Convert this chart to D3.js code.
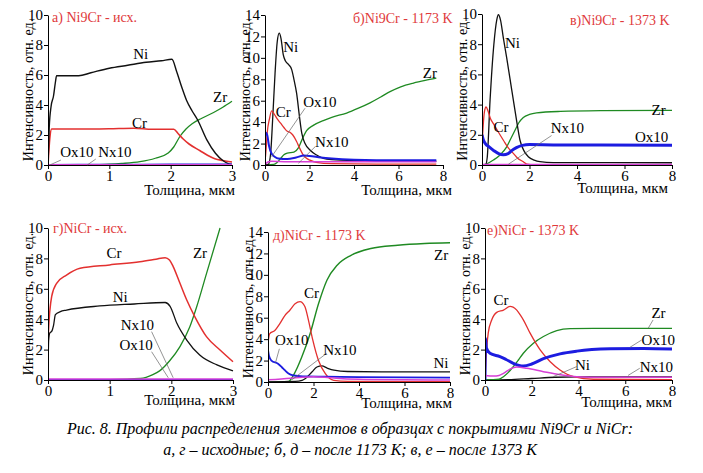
<!DOCTYPE html>
<html><head><meta charset="utf-8">
<script src="https://cdn.jsdelivr.net/npm/d3@7/dist/d3.min.js"></script>
<style>
body{margin:0;background:#fff;}
svg{display:block;}
</style></head>
<body>
<svg id="c" width="703" height="473"></svg>
<script>
// ---------- DATA ----------
// Panel а) Ni9Cr - исх.
const aNi=[[0,0],[0.02,2.5],[0.05,3.9],[0.09,4.6],[0.12,5.5],[0.14,5.95],[0.3,5.95],[0.5,5.95],[0.7,6.15],[1.0,6.45],[1.3,6.65],[1.6,6.85],[1.85,6.95],[2.02,7.05],[2.1,6.2],[2.18,5.2],[2.26,4.3],[2.35,3.6],[2.44,3.0],[2.59,1.67],[2.73,0.78],[2.85,0.3],[2.95,0.08],[3.0,0.03]];
const aCr=[[0,0],[0.03,1.8],[0.06,2.4],[0.5,2.4],[1.0,2.42],[1.4,2.45],[1.7,2.38],[2.05,2.38],[2.12,2.1],[2.2,1.75],[2.3,1.4],[2.48,0.95],[2.6,0.65],[2.72,0.42],[2.85,0.3],[3.0,0.2]];
const aZr=[[0,0],[0.8,0.02],[1.0,0.05],[1.2,0.1],[1.5,0.22],[1.75,0.45],[1.96,0.8],[2.05,1.2],[2.15,1.9],[2.25,2.4],[2.35,2.75],[2.5,3.1],[2.7,3.5],[2.85,3.85],[3.0,4.25]];
const aO=[[0,0.03],[1,0.04],[2,0.05],[3,0.05]];
const aN=[[0,0.01],[1,0.01],[2,0.01],[3,0.01]];
// Panel б) Ni9Cr - 1173 K
const bNi=[[0,0],[0.15,0.05],[0.25,1.0],[0.35,4.5],[0.45,8.5],[0.55,11.5],[0.64,12.3],[0.72,11.8],[0.82,10.3],[0.92,9.7],[1.05,9.4],[1.2,8.9],[1.3,8.0],[1.42,6.7],[1.55,4.5],[1.65,3.0],[1.8,2.0],[2.02,1.4],[2.3,0.95],[2.62,0.62],[3.0,0.5],[4,0.42],[6,0.38],[7.7,0.35]];
const bCr=[[0,0.3],[0.05,1.5],[0.1,3.0],[0.2,4.3],[0.3,5.05],[0.4,4.8],[0.55,4.3],[0.7,3.9],[0.85,3.5],[1.0,3.15],[1.12,3.05],[1.25,2.8],[1.42,2.2],[1.55,1.6],[1.7,1.0],[1.85,0.65],[2.02,0.45],[2.3,0.25],[3,0.12],[5,0.08],[7.7,0.08]];
const bZr=[[0,0],[0.4,0.05],[0.55,0.25],[0.7,0.6],[0.85,0.95],[1.0,1.1],[1.3,1.2],[1.5,1.6],[1.65,2.3],[1.87,3.2],[2.17,3.7],[2.62,4.15],[3.0,4.45],[3.67,4.85],[4.2,5.3],[4.72,5.8],[5.2,6.35],[5.62,6.85],[6.1,7.3],[6.67,7.65],[7.2,7.9],[7.7,8.1]];
const bO=[[0,2.7],[0.05,3.0],[0.1,2.8],[0.18,1.8],[0.3,1.05],[0.45,0.75],[0.6,0.6],[1.0,0.55],[1.4,0.7],[1.75,0.88],[2.0,0.85],[2.5,0.7],[3.0,0.6],[4,0.5],[6,0.45],[7.7,0.45]];
const bN=[[0,0.05],[0.15,0.3],[0.3,0.35],[1,0.3],[2,0.3],[4,0.3],[7.7,0.3]];
// Panel в) Ni9Cr - 1373 K
const cNi=[[0,0],[0.15,0.02],[0.22,0.5],[0.34,4.3],[0.5,8.0],[0.62,9.6],[0.69,9.95],[0.78,9.6],[0.9,8.4],[1.04,7.1],[1.18,5.7],[1.32,4.3],[1.46,2.9],[1.6,1.64],[1.78,0.9],[1.95,0.55],[2.2,0.32],[2.44,0.22],[3,0.16],[8,0.15]];
const cCr=[[0,1.2],[0.05,2.6],[0.1,3.5],[0.17,3.84],[0.25,3.6],[0.35,3.1],[0.48,2.74],[0.7,2.15],[0.9,1.64],[1.1,1.15],[1.32,0.77],[1.5,0.45],[1.74,0.22],[1.9,0.05],[2.2,0],[8,0]];
const cZr=[[0,0],[0.2,0.08],[0.48,0.33],[0.75,0.65],[1.04,1.2],[1.2,1.7],[1.39,2.3],[1.55,2.8],[1.74,3.15],[2.0,3.35],[2.3,3.45],[3.3,3.55],[5,3.6],[8,3.62]];
const cO=[[0,2.0],[0.05,1.7],[0.15,1.4],[0.3,1.2],[0.5,0.95],[0.7,0.75],[0.9,0.68],[1.1,0.75],[1.25,0.95],[1.45,1.15],[1.7,1.3],[2.0,1.35],[3,1.33],[5,1.32],[8,1.3]];
const cN=[[0,0.03],[2,0.03],[8,0.03]];
// Panel г) NiCr - исх.
const dCr=[[0,0],[0.005,3.0],[0.06,5.5],[0.14,6.36],[0.3,6.9],[0.52,7.35],[1.0,7.57],[1.49,7.78],[1.75,7.95],[1.9,8.05],[1.97,7.9],[2.03,7.46],[2.14,6.36],[2.25,5.26],[2.38,4.17],[2.57,2.85],[2.79,1.97],[3.0,1.2]];
const dNi=[[0,0],[0.01,2.6],[0.03,3.1],[0.06,3.2],[0.09,3.6],[0.12,4.3],[0.2,4.5],[0.3,4.6],[0.84,4.87],[1.4,5.0],[1.9,5.1],[1.98,4.85],[2.09,3.73],[2.25,2.63],[2.46,1.64],[2.74,0.99],[3.0,0.6]];
const dZr=[[0,0],[1.0,0.03],[1.5,0.1],[1.7,0.35],[1.81,0.6],[1.98,1.3],[2.14,2.2],[2.3,3.5],[2.41,4.8],[2.57,7.0],[2.79,10.0]];
const dO=[[0,0.03],[1,0.03],[2,0.03],[3,0.03]];
const dN=[[0,0.06],[1,0.06],[2,0.06],[3,0.06]];
// Panel д) NiCr - 1173 K
const eCr=[[0,3.6],[0.07,4.5],[0.3,4.8],[0.52,5.45],[0.74,6.2],[0.96,6.7],[1.19,7.3],[1.41,7.5],[1.55,7.3],[1.63,7.0],[1.78,5.76],[1.97,3.9],[2.22,2.0],[2.52,0.78],[2.89,0.15],[3.5,0.05],[8,0.03]];
const eZr=[[0,0],[0.9,0.05],[1.11,0.6],[1.3,1.4],[1.48,2.3],[1.85,4.5],[2.22,7.3],[2.59,9.5],[3.04,10.9],[3.63,11.8],[4.52,12.46],[5.7,12.77],[6.89,12.93],[8,13.0]];
const eNi=[[0,0.02],[1.2,0.05],[1.5,0.15],[1.63,0.3],[1.93,0.93],[2.15,1.4],[2.37,1.5],[2.6,1.3],[2.9,1.1],[3.5,0.98],[5,0.95],[8,0.95]];
const eO=[[0,3.0],[0.05,2.4],[0.15,2.0],[0.44,1.7],[0.6,1.4],[0.74,1.1],[0.9,0.8],[1.11,0.62],[1.4,0.55],[1.7,0.52],[2.5,0.5],[4,0.45],[8,0.4]];
const eN=[[0,0.2],[1,0.35],[1.5,0.45],[2.0,0.5],[2.5,0.45],[3,0.35],[4,0.25],[6,0.2],[8,0.18]];
// Panel е) NiCr - 1373 K
const fCr=[[0,0],[0.04,1.3],[0.14,3.1],[0.29,3.96],[0.5,4.45],[0.79,4.6],[1.07,4.84],[1.2,4.8],[1.36,4.6],[1.5,4.3],[1.64,3.96],[1.93,3.08],[2.36,1.98],[2.79,1.2],[3.21,0.66],[3.79,0.22],[4.64,0.05],[8,0.03]];
const fZr=[[0,0],[0.6,0.05],[0.79,0.22],[1.0,0.5],[1.21,0.88],[1.42,1.3],[1.64,1.76],[2.07,2.42],[2.5,2.86],[3.07,3.25],[3.64,3.38],[4.64,3.4],[8,3.4]];
const fO=[[0,0],[0.02,2.75],[0.06,2.1],[0.21,1.76],[0.64,1.54],[0.9,1.35],[1.21,1.1],[1.64,0.92],[2.0,1.05],[2.5,1.4],[3.21,1.72],[3.93,1.9],[5.36,2.05],[6.79,2.08],[8,2.04]];
const fN=[[0,0.3],[0.36,0.26],[0.6,0.3],[0.79,0.44],[1.07,0.72],[1.36,0.85],[1.79,0.77],[2.5,0.55],[3.21,0.35],[3.93,0.22],[5,0.18],[8,0.18]];
const fNi=[[0,0],[1,0.02],[2,0.1],[3,0.18],[4,0.2],[8,0.2]];

const ticks3=[0,1,2,3];
const ticks8=[0,2,4,6,8];
const ticks10=[0,2,4,6,8,10];
const ticks14=[0,2,4,6,8,10,12,14];

const xLabelText="Толщина, мкм";
const yLabelText="Интенсивность, отн. ед.";
const captionLines=["Рис. 8. Профили распределения элементов в образцах с покрытиями Ni9Cr и NiCr:","а, г – исходные; б, д – после 1173 К; в, е – после 1373 К"];

// ---------- STYLE / LAYOUT ----------
const COL={Ni:"#111111",Cr:"#e3302f",Zr:"#1f8a22",O:"#1c1ce0",N:"#d63fd6",title:"#e0393b"};
const SERIF='"Liberation Serif", "Tinos", "Times New Roman"';

const panels=[
 {title:"а) Ni9Cr - исх.",xr:[48,232],yr:[165,15],xd:[0,3],yd:[0,10],xt:ticks3,yt:ticks10,tpos:[52,22],xl:[235,195],
  series:[[aZr,"Zr",1.3],[aCr,"Cr",1.6],[aNi,"Ni",1.4],[aO,"O",1.3],[aN,"N",1.5]],
  labels:[["Ni",1.39,7.07],["Cr",1.37,2.47],["Zr",2.69,4.22],["Ox10",0.2,0.55],["Nx10",0.82,0.55]],
  leaders:[[0.21,0.33,0.03,0],[0.78,0.4,0.64,0]]},
 {title:"б)Ni9Cr - 1173 K",xr:[265,443],yr:[165,15],xd:[0,8],yd:[0,14],xt:ticks8,yt:ticks14,tpos:[353,23],xl:[452,195],
  series:[[bZr,"Zr",1.3],[bNi,"Ni",1.3],[bCr,"Cr",1.3],[bN,"N",1.6],[bO,"O",2.0]],
  labels:[["Ni",0.82,10.58],["Cr",0.48,4.51],["Ox10",1.72,5.44],["Nx10",2.25,1.71],["Zr",7.09,8.1]],
  leaders:[[1.8,5.3,0.3,0.78],[2.25,1.7,1.5,0.16]]},
 {title:"в)Ni9Cr - 1373 K",xr:[482,672],yr:[165,14],xd:[0,8],yd:[0,10],xt:ticks8,yt:ticks10,tpos:[570,25],xl:[668,193],
  series:[[cZr,"Zr",1.3],[cNi,"Ni",1.3],[cCr,"Cr",1.3],[cN,"N",1.5],[cO,"O",3.0]],
  labels:[["Ni",0.97,7.78],["Cr",0.48,2.19],["Zr",7.14,3.29],["Ox10",6.44,1.53],["Nx10",2.89,2.09]],
  leaders:[[2.93,1.95,1.11,0.05]]},
 {title:"г)NiCr - исх.",xr:[48,233],yr:[380,228],xd:[0,3],yd:[0,10],xt:ticks3,yt:ticks10,tpos:[53,233],xl:[235,405],
  series:[[dZr,"Zr",1.3],[dNi,"Ni",1.3],[dCr,"Cr",1.5],[dO,"O",1.3],[dN,"N",1.5]],
  labels:[["Cr",0.95,8.0],["Ni",1.05,5.15],["Zr",2.35,8.0],["Nx10",1.18,3.29],["Ox10",1.16,1.97]],
  leaders:[[1.68,3.18,2.03,0.15],[1.68,1.86,1.95,0.15]]},
 {title:"д)NiCr - 1173 K",xr:[268,450],yr:[382,232],xd:[0,8],yd:[0,14],xt:ticks8,yt:ticks14,tpos:[273,240],xl:[452,408],
  series:[[eZr,"Zr",1.4],[eNi,"Ni",1.3],[eCr,"Cr",1.3],[eO,"O",1.8],[eN,"N",1.5]],
  labels:[["Cr",1.58,7.81],["Zr",7.3,11.4],["Ox10",0.31,3.45],["Nx10",2.43,2.52],["Ni",7.27,1.28]],
  leaders:[[0.5,3.1,0.33,1.8],[2.58,2.68,1.04,0.19]]},
 {title:"е)NiCr - 1373 K",xr:[485,672],yr:[380,228],xd:[0,8],yd:[0,10],xt:ticks8,yt:ticks10,tpos:[487,235],xl:[672,407],
  series:[[fNi,"Ni",1.3],[fZr,"Zr",1.3],[fCr,"Cr",1.3],[fO,"O",3.0],[fN,"N",1.5]],
  labels:[["Cr",0.36,4.93],["Zr",7.12,4.08],["Ox10",6.7,2.3],["Nx10",6.62,0.55],["Ni",3.85,0.66]],
  leaders:[[7.19,3.95,6.98,3.4],[6.7,2.63,6.2,2.15],[6.62,0.77,6.12,0.3],[3.92,0.88,2.92,0.22]]}
];

// ---------- DRAW ----------
const svg=d3.select("#c");
svg.append("rect").attr("width",703).attr("height",473).attr("fill","#fff");

function txt(sel,size){ return sel.style("font-family",SERIF).style("font-size",size+"px").attr("fill","#000"); }

panels.forEach((p,pi)=>{
  const x=d3.scaleLinear().domain(p.xd).range(p.xr);
  const y=d3.scaleLinear().domain(p.yd).range(p.yr);
  const g=svg.append("g");
  const clipId="clip"+pi;
  g.append("clipPath").attr("id",clipId).append("rect")
    .attr("x",p.xr[0]).attr("y",p.yr[1]-2).attr("width",p.xr[1]-p.xr[0]+2).attr("height",p.yr[0]-p.yr[1]+3);

  const line=d3.line().x(d=>x(d[0])).y(d=>y(d[1])).curve(d3.curveMonotoneX);
  const cg=g.append("g").attr("clip-path","url(#"+clipId+")");
  p.series.forEach(s=>{
    cg.append("path").attr("d",line(s[0])).attr("fill","none")
      .attr("stroke",COL[s[1]]).attr("stroke-width",s[2]).attr("stroke-linejoin","round");
  });

  const ax=g.append("g").attr("transform","translate(0,"+p.yr[0]+")")
    .call(d3.axisBottom(x).tickValues(p.xt).tickFormat(d3.format("d")).tickSize(4).tickSizeOuter(0).tickPadding(1));
  const ay=g.append("g").attr("transform","translate("+p.xr[0]+",0)")
    .call(d3.axisLeft(y).tickValues(p.yt).tickFormat(d3.format("d")).tickSize(4).tickSizeOuter(0).tickPadding(1));
  [ax,ay].forEach(a=>{
    a.selectAll("path,line").attr("stroke","#000").attr("stroke-width",1);
    txt(a.selectAll("text"),15);
  });

  p.leaders.forEach(l=>{
    g.append("line").attr("x1",x(l[0])).attr("y1",y(l[1])).attr("x2",x(l[2])).attr("y2",y(l[3]))
      .attr("stroke","#666").attr("stroke-width",0.7);
  });
  p.labels.forEach(l=>{
    txt(g.append("text").attr("x",x(l[1])).attr("y",y(l[2])).text(l[0]),15);
  });
  txt(g.append("text").attr("x",p.tpos[0]).attr("y",p.tpos[1]).text(p.title),14).attr("fill",COL.title);
  txt(g.append("text").attr("x",p.xl[0]).attr("y",p.xl[1]).attr("text-anchor","end").text(xLabelText),15);
  const cy=(p.yr[0]+p.yr[1])/2;
  txt(g.append("text").attr("transform","translate("+(p.xr[0]-20)+","+cy+") rotate(-90)")
    .attr("text-anchor","middle").attr("dominant-baseline","central").text(yLabelText),14);
});

captionLines.forEach((t,i)=>{
  txt(svg.append("text").attr("x",350).attr("y",434+i*21).attr("text-anchor","middle").text(t),16)
    .style("font-style","italic");
});
</script>
</body></html>
